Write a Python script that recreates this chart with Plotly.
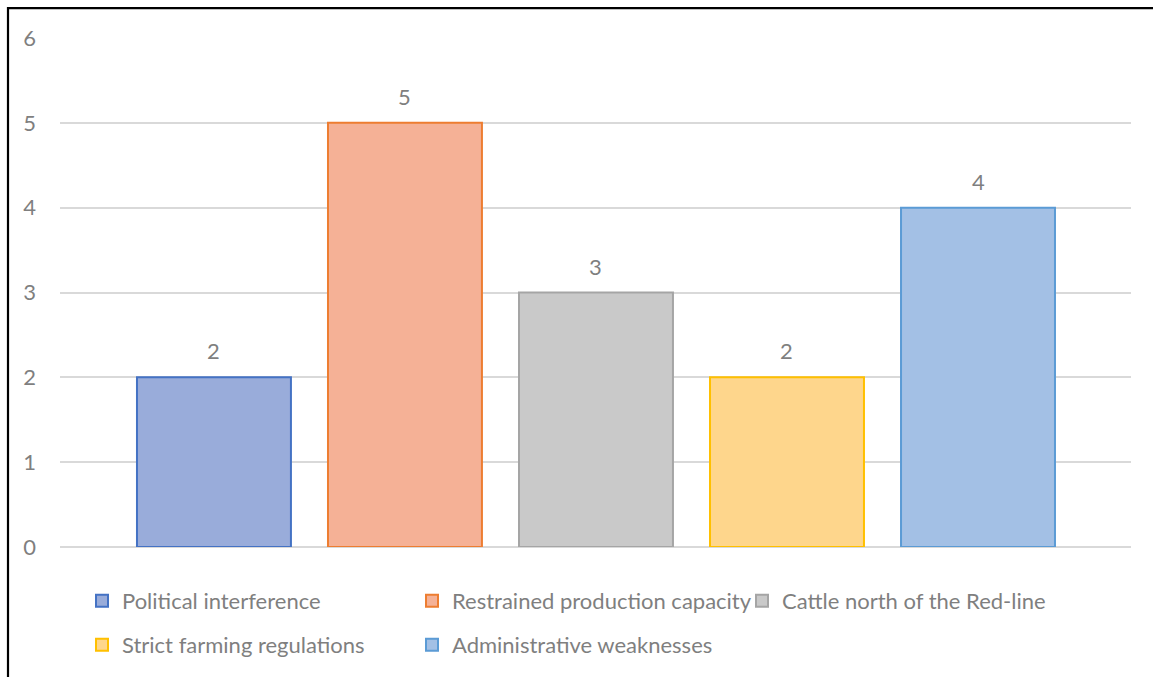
import plotly.graph_objects as go

# Chart data
categories = [
    "Political interference",
    "Restrained production capacity",
    "Cattle north of the Red-line",
    "Strict farming regulations",
    "Administrative weaknesses",
]
counts = [2, 5, 3, 2, 4]
y_ticks = [0, 1, 2, 3, 4, 5, 6]

# Styling per series
fill_colors = ["#99ACDA", "#F5B196", "#C9C9C9", "#FED68C", "#A3C0E5"]
line_colors = ["#4472C4", "#ED7D31", "#A5A5A5", "#FFC000", "#5B9BD5"]

FONT = "Lato"
FONT_SIZE = 22
TEXT_GRAY = "#7F7F7F"

W, H = 1153, 677
ML, MR, MT, MB = 60, 22, 38, 129
PW, PH = W - ML - MR, H - MT - MB


def px_to_paper_x(px):
    return (px - ML) / PW


def px_to_paper_y(py):
    return (H - MB - py) / PH


fig = go.Figure()
for i, (cat, val) in enumerate(zip(categories, counts)):
    fig.add_trace(
        go.Bar(
            x=[cat],
            y=[val],
            name=cat,
            marker=dict(color=fill_colors[i], line=dict(color=line_colors[i], width=2)),
            legend="legend" if i < 3 else "legend2",
            width=0.806,
        )
    )

# Value labels above each bar
for cat, val in zip(categories, counts):
    fig.add_annotation(
        x=cat, y=val, text=str(val), showarrow=False,
        yanchor="bottom", yshift=11,
        font=dict(family=FONT, size=FONT_SIZE, color=TEXT_GRAY),
    )

# Outer chart frame
fig.add_shape(
    type="rect", xref="paper", yref="paper",
    x0=px_to_paper_x(8), x1=px_to_paper_x(W + 20),
    y0=px_to_paper_y(H + 20), y1=px_to_paper_y(8),
    line=dict(color="black", width=2.2), fillcolor="rgba(0,0,0,0)",
)

legend_common = dict(
    orientation="h", xanchor="left", yanchor="middle",
    font=dict(family=FONT, size=FONT_SIZE, color=TEXT_GRAY),
    entrywidth=285, entrywidthmode="pixels",
    bgcolor="rgba(0,0,0,0)", itemclick=False,
)

fig.update_layout(
    width=W, height=H,
    margin=dict(l=ML, r=MR, t=MT, b=MB, pad=0),
    paper_bgcolor="white", plot_bgcolor="white",
    barmode="overlay",
    showlegend=True,
    legend=dict(x=px_to_paper_x(82), y=px_to_paper_y(601), **legend_common),
    legend2=dict(x=px_to_paper_x(82), y=px_to_paper_y(645), **legend_common),
    xaxis=dict(
        showticklabels=False, showgrid=False, zeroline=False,
        showline=False, categoryorder="array", categoryarray=categories,
        range=[-0.806, len(categories) - 1 + 0.801],
    ),
    yaxis=dict(
        range=[0, 6], tickvals=y_ticks, ticktext=[str(t) for t in y_ticks],
        showgrid=True, gridcolor="#D9D9D9", gridwidth=1.5,
        zeroline=True, zerolinecolor="#D9D9D9", zerolinewidth=1.5,
        showline=False, ticks="", ticklabelstandoff=23,
        tickfont=dict(family=FONT, size=FONT_SIZE, color=TEXT_GRAY),
    ),
    font=dict(family=FONT, color=TEXT_GRAY),
)

fig.write_html("out.html")
